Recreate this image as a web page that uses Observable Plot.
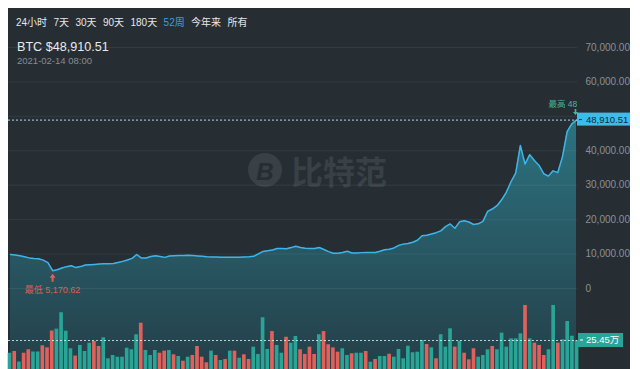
<!DOCTYPE html>
<html><head><meta charset="utf-8">
<script src="https://cdn.jsdelivr.net/npm/d3@7"></script>
<script src="https://cdn.jsdelivr.net/npm/@observablehq/plot@0.6"></script>
<style>
html,body{margin:0;padding:0;background:#fff;width:640px;height:369px;overflow:hidden;font-family:"Liberation Sans",Arial,"Noto Sans CJK SC",sans-serif;}
#panel{position:absolute;left:8px;top:8px;width:622px;height:361px;background:#262d33;}
.layer{position:absolute;left:0;top:0;}
#tabs{position:absolute;left:16px;top:17.5px;display:flex;gap:6.4px;font-size:10px;line-height:10px;color:#e6e8ea;white-space:nowrap;}
#tabs .on{color:#3a9fe0;}
#title{position:absolute;left:17px;top:41.3px;font-size:12.6px;line-height:13px;color:#e8eaec;white-space:nowrap;}
#stamp{position:absolute;left:17px;top:55.5px;font-size:9.5px;line-height:10px;color:#858c94;white-space:nowrap;}
</style></head><body>
<div id="panel"></div>
<svg class="layer" width="640" height="369" id="wm">
  <circle cx="265" cy="170" r="17" fill="#394046"></circle>
  <text x="265" y="171" text-anchor="middle" dominant-baseline="central" font-size="24" font-weight="bold" font-style="italic" fill="#262d33" font-family="Liberation Sans, Arial">B</text>
  <text x="291" y="170" dominant-baseline="central" font-size="32" font-weight="bold" fill="#394046" font-family="Noto Sans CJK SC">比特范</text>
</svg>
<div id="charts"></div>
<div id="tabs"></div>
<div id="title"></div>
<div id="stamp"></div>
<script>
// ---------------- data ----------------
const tabs = ["24小时","7天","30天","90天","180天","52周","今年来","所有"];
const activeTab = "52周";
const symbol = "BTC";
const stampText = "2021-02-14 08:00";
const yTicks = [0,10000,20000,30000,40000,50000,60000,70000];
const prices = [
 9875,9700,9520,9220,8890,8740,8650,8240,7520,5170.62,
 5460,5960,6350,6600,6070,6360,6810,6900,7000,7090,
 7170,7220,7260,7570,7880,8300,8760,9875,8830,8870,
 9300,9500,9280,9040,9420,9530,9570,9610,9660,9610,
 9470,9340,9240,9180,9120,9070,9050,9080,9060,9100,
 9150,9220,9340,10060,10770,10960,11210,11600,11640,11540,
 11880,12260,11920,11670,11590,11600,11920,11330,10720,10250,
 10250,10430,10810,10300,10330,10420,10460,10460,10460,10800,
 11270,11420,11790,12530,12890,13070,13450,14030,15310,15480,
 15810,16220,16750,17960,18750,17480,19360,19650,19310,18600,
 18790,19490,22380,23080,24050,25770,27950,31010,33490,41530,
 36150,38870,37200,35730,33340,32640,34170,33670,38240,45550,
 47810,48910.51
];
const volumes = [
 14.3,15.8,6.6,14.3,17.3,15.4,15.4,20.8,19.0,33.8,
 35.4,49.8,33.6,18.2,11.8,21.1,15.8,23.1,24.6,20.2,
 27.8,9.4,12.3,10.8,10.8,18.7,17.3,30.5,40.6,16.7,
 12.3,16.7,14.3,16.1,16.7,12.9,11.4,7.3,10.8,12.3,
 20.2,10.8,5.9,16.1,12.3,7.9,8.8,16.1,16.1,9.9,
 12.9,8.8,19.6,13.2,45.4,17.6,33.3,21.1,14.3,28.3,
 23.1,29.0,17.3,13.2,19.6,13.2,30.5,33.3,21.7,19.0,
 15.2,18.2,12.3,13.8,14.3,14.3,15.8,6.4,8.8,11.4,
 11.4,13.4,10.8,17.6,9.4,20.4,14.7,15.2,25.5,21.9,
 19.0,9.4,30.5,19.6,35.7,19.6,24.8,14.3,8.5,18.2,
 10.8,12.3,17.3,20.2,17.3,31.9,19.6,26.9,26.9,31.3,
 56.2,26.9,23.1,21.1,12.3,17.3,56.2,23.1,26.1,42.1,
 29.2,25.5
];
// t = up (teal), r = down (red)
const dirs = [..."trtrrttrrrttttrtttrrttttttttrt" +
              "ttrrtrtrtrrrrtrtrtrtrrttttrttrt" +
              "trrrrtrrrrttrttrtrttrtttttttrt" +
              "rtttrtrrrtttrttttttrtrrrttrtttt"];
const volRef = 25.45;           // 万
const lastPrice = prices[prices.length - 1];

const teal = "#28a596", red = "#e0605b";
const data = prices.map((p, i) => ({i, p, v: volumes[i], up: dirs[i] === "t"}));
const lowIdx = d3.minIndex(prices), highIdx = d3.maxIndex(prices);
const fmt2 = d3.format(",.2f");

// header
d3.select("#tabs").selectAll("span").data(tabs).join("span")
  .attr("class", d => d === activeTab ? "on" : null).text(d => d);
d3.select("#title").text(`${symbol} $${fmt2(lastPrice)}`);
d3.select("#stamp").text(stampText);

// symbols
const arrowUp = {draw(c){c.moveTo(0,-4);c.lineTo(3,0);c.lineTo(1,0);c.lineTo(1,4);c.lineTo(-1,4);c.lineTo(-1,0);c.lineTo(-3,0);c.closePath();}};
const arrowDown = {draw(c){c.moveTo(0,3);c.lineTo(2.5,0);c.lineTo(0.8,0);c.lineTo(0.8,-3);c.lineTo(-0.8,-3);c.lineTo(-0.8,0);c.lineTo(-2.5,0);c.closePath();}};

const W = 640, H = 369;
const font = '"Liberation Sans", Arial, "Noto Sans CJK SC", sans-serif';
// tick labels hidden behind the current-price tag are not shown
const labelTicks = yTicks.filter(t => Math.abs(t - lastPrice) > 2500);

const priceChart = Plot.plot({
  width: W, height: H, marginLeft: 8, marginRight: 63, marginTop: 0, marginBottom: 0,
  style: {background: "transparent", fontFamily: font, overflow: "visible"},
  x: {domain: [0, prices.length - 1], range: [10, 576], axis: null},
  y: {domain: [0, 70000], range: [288, 47], axis: null},
  marks: [
    Plot.areaY(data, {x: "i", y1: -24000, y2: "p", fill: "url(#pgrad)"}),
    Plot.ruleY(yTicks, {stroke: "#ffffff", strokeOpacity: 0.065}),
    Plot.lineY(data, {x: "i", y: "p", stroke: "#3db5e8", strokeWidth: 1.5}),
    Plot.ruleY([lastPrice], {stroke: "#a6dcf2", strokeWidth: 1, strokeDasharray: "2,2"}),
    Plot.axisY(labelTicks, {anchor: "right", tickSize: 0, tickPadding: 8, label: null,
      tickFormat: d => d === 0 ? "0" : fmt2(d), fill: "#8a9199", fontSize: 10}),
    // low annotation
    Plot.dot([data[lowIdx]], {x: "i", y: "p", symbol: arrowUp, r: 3, dy: 7, fill: "#e0605b", stroke: null}),
    Plot.text([data[lowIdx]], {x: "i", y: "p", text: d => "最低 " + fmt2(d.p), dy: 19, fill: "#df5d58", fontSize: 9, textAnchor: "middle"}),
    // high annotation
    Plot.dot([data[highIdx]], {x: "i", y: "p", symbol: arrowDown, r: 3, dy: -8, dx: -1, fill: "#46b89e", stroke: null}),
    Plot.text([data[highIdx]], {x: "i", y: "p", text: d => "最高 " + fmt2(d.p), dy: -16, dx: -28, fill: "#46b89e", fontSize: 8.5, textAnchor: "start", clip: true})
  ]
});

const defs = d3.select(priceChart).insert("defs", ":first-child");
const g = defs.append("linearGradient").attr("id", "pgrad").attr("gradientUnits", "userSpaceOnUse")
  .attr("x1", 0).attr("y1", 110).attr("x2", 0).attr("y2", 369);
g.append("stop").attr("offset", 0).attr("stop-color", "#2c7582");
g.append("stop").attr("offset", 1).attr("stop-color", "#243f49");

// current price tag
{
  const yp = priceChart.scale("y").apply(lastPrice);
  const s = d3.select(priceChart).append("g").attr("text-anchor", "start");
  s.append("rect").attr("x", 577).attr("y", yp - 7).attr("width", 53).attr("height", 13).attr("fill", "#3dbbea");
  s.append("rect").attr("x", 579).attr("y", yp - 0.5).attr("width", 3).attr("height", 1).attr("fill", "#14324a");
  s.append("text").attr("x", 586).attr("y", yp).attr("dy", "0.34em").attr("font-size", 9.5)
    .attr("text-anchor", "start").attr("fill", "#10293c").attr("font-family", font).text(fmt2(lastPrice));
}

const volChart = Plot.plot({
  width: W, height: H, marginLeft: 8, marginRight: 63, marginTop: 0, marginBottom: 0,
  style: {background: "transparent", fontFamily: font, overflow: "visible"},
  x: {type: "band", domain: d3.range(prices.length), range: [7.7, 578.4], paddingInner: 0.22, paddingOuter: 0, round: false, axis: null},
  y: {domain: [0, volRef], range: [369, 340], axis: null},
  marks: [
    Plot.barY(data.filter(d => d.up), {x: "i", y: "v", fill: teal}),
    Plot.barY(data.filter(d => !d.up), {x: "i", y: "v", fill: red}),
    Plot.ruleY([volRef], {stroke: "#d6ecea", strokeOpacity: 0.85, strokeDasharray: "2,2"})
  ]
});
{
  const yv = volChart.scale("y").apply(volRef);
  const s = d3.select(volChart).append("g").attr("text-anchor", "start");
  s.append("rect").attr("x", 578).attr("y", yv - 7).attr("width", 45).attr("height", 14).attr("fill", "#28a596");
  s.append("rect").attr("x", 580).attr("y", yv - 0.5).attr("width", 3).attr("height", 1).attr("fill", "#ffffff");
  s.append("text").attr("x", 586).attr("y", yv).attr("dy", "0.34em").attr("font-size", 9.5)
    .attr("text-anchor", "start").attr("fill", "#ffffff").attr("font-family", font).text(volRef + "万");
}

for (const el of [priceChart, volChart]) {
  el.classList.add("layer");
  el.style.position = "absolute"; el.style.left = "0px"; el.style.top = "0px";
  document.getElementById("charts").appendChild(el);
}
</script>
</body></html>
